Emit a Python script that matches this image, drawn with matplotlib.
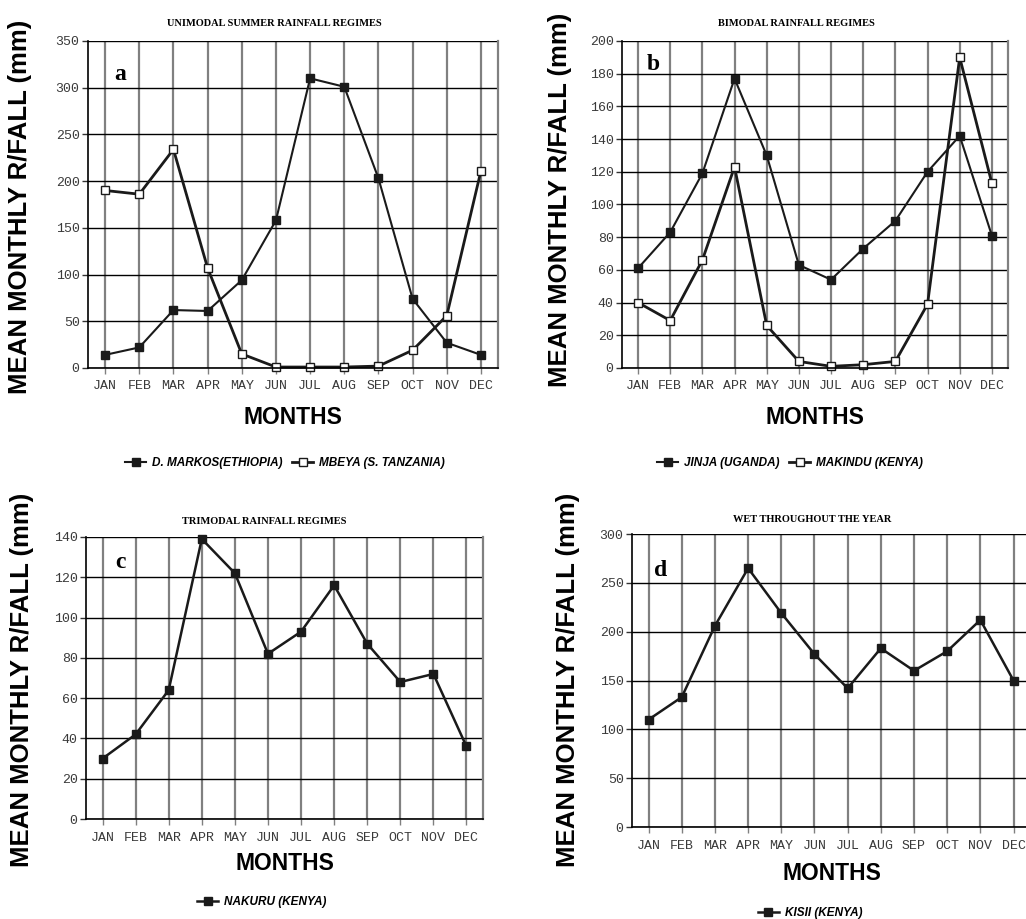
import matplotlib
matplotlib.use("Agg")
import matplotlib.pyplot as plt

months = ["JAN", "FEB", "MAR", "APR", "MAY", "JUN", "JUL", "AUG", "SEP", "OCT", "NOV", "DEC"]

# panel a - unimodal
markos = [14, 22, 62, 61, 94, 158, 310, 301, 203, 74, 27, 14]
mbeya = [190, 186, 234, 107, 15, 1, 1, 1, 2, 19, 56, 211]
# panel b - bimodal
jinja = [61, 83, 119, 177, 130, 63, 54, 73, 90, 120, 142, 81]
makindu = [40, 29, 66, 123, 26, 4, 1, 2, 4, 39, 190, 113]
# panel c - trimodal
nakuru = [30, 42, 64, 139, 122, 82, 93, 116, 87, 68, 72, 36]
# panel d - wet throughout
kisii = [110, 133, 206, 265, 219, 177, 142, 183, 160, 180, 212, 150]

W, H = 1026, 919
fig = plt.figure(figsize=(W / 100, H / 100), dpi=100)

mono = "Liberation Mono"
serif = "Liberation Serif"
sans = "Liberation Sans"


def px(x, y):
    return x / W, 1 - y / H


def setup(rect, ymax, ystep, title, tpos, letter, lpos, ylpos, mpos):
    ax = fig.add_axes(rect)
    ax.set_xlim(-0.5, 11.5)
    ax.set_ylim(0, ymax)
    ax.set_xticks(range(12))
    ax.set_xticklabels(months)
    ax.set_yticks(range(0, ymax + 1, ystep))
    for lab in ax.get_xticklabels() + ax.get_yticklabels():
        lab.set_family(mono)
        lab.set_fontsize(9.5)
        lab.set_color("#3a3a3a")
    ax.tick_params(axis="x", length=4, width=1, color="#808080", pad=5)
    ax.tick_params(axis="y", length=4, width=1, color="#333333", pad=2)
    ax.yaxis.grid(True, color="black", lw=1.0)
    ax.xaxis.grid(True, color="#808080", lw=1.6)
    ax.set_axisbelow(True)
    ax.spines["top"].set_visible(False)
    ax.spines["right"].set_color("#808080")
    ax.spines["right"].set_linewidth(1.6)
    ax.spines["left"].set_linewidth(1.2)
    ax.spines["bottom"].set_linewidth(1.2)
    fig.text(*px(*tpos), title, family=serif, fontsize=7.5, ha="center", va="center",
             fontweight="bold")
    fig.text(*px(*lpos), letter, family=serif, fontsize=17, fontweight="bold",
             ha="center", va="center")
    fig.text(*px(*ylpos), "MEAN MONTHLY R/FALL (mm)", family=sans, fontsize=18.5,
             fontweight="bold", rotation=90, ha="center", va="center")
    fig.text(*px(*mpos), "MONTHS", family=sans, fontsize=16.5, fontweight="bold",
             ha="center", va="center")
    return ax


def series(ax, vals, label, filled, lw=1.6):
    ax.plot(range(12), vals, color="#1a1a1a", lw=lw, marker="s", markersize=5.5,
            markerfacecolor="#1a1a1a" if filled else "white",
            markeredgecolor="#1a1a1a", markeredgewidth=1, label=label, clip_on=False)


def legend(ax, pos, ncol):
    ax.legend(loc="center", bbox_to_anchor=px(*pos), bbox_transform=fig.transFigure,
              ncol=ncol, frameon=False, handlelength=1.8, columnspacing=0.8,
              handletextpad=0.5, prop={"family": sans, "size": 8.5, "weight": "bold",
                                       "style": "italic"})


# a
ax = setup([0.0858, 0.5996, 0.3996, 0.3558], 350, 50, "UNIMODAL SUMMER RAINFALL REGIMES",
           (274, 24), "a", (120, 75), (20, 207), (293, 418))
series(ax, markos, "D. MARKOS(ETHIOPIA)", True, 1.5)
series(ax, mbeya, "MBEYA (S. TANZANIA)", False, 2.0)
legend(ax, (285, 463), 2)

# b
ax = setup([0.6062, 0.5996, 0.3762, 0.3558], 200, 20, "BIMODAL RAINFALL REGIMES",
           (796, 24), "b", (653, 65), (560, 200), (815, 418))
series(ax, jinja, "JINJA (UGANDA)", True, 1.5)
series(ax, makindu, "MAKINDU (KENYA)", False, 2.0)
legend(ax, (790, 463), 2)

# c
ax = setup([0.0838, 0.1088, 0.3870, 0.3069], 140, 20, "TRIMODAL RAINFALL REGIMES",
           (264, 522), "c", (120, 562), (22, 680), (285, 863))
series(ax, nakuru, "NAKURU (KENYA)", True, 1.8)
legend(ax, (262, 902), 1)

# d
ax = setup([0.6160, 0.1001, 0.3880, 0.3188], 300, 50, "WET THROUGHOUT THE YEAR",
           (812, 519), "d", (661, 570), (568, 680), (832, 873))
series(ax, kisii, "KISII (KENYA)", True, 1.8)
legend(ax, (810, 913), 1)

fig.savefig("out.png", dpi=100, facecolor="white")
